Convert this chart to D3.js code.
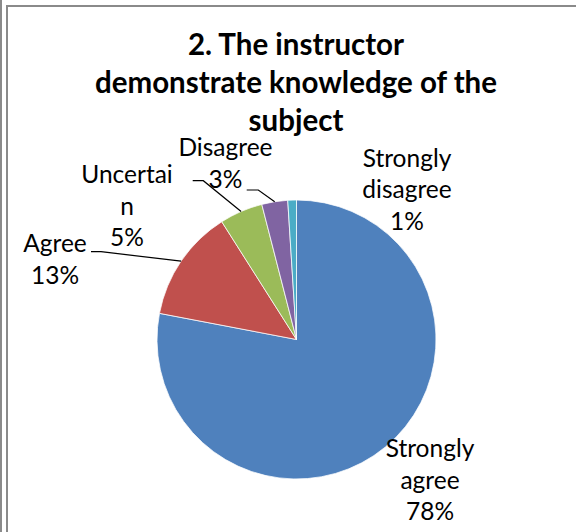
<!DOCTYPE html>
<html>
<head>
<meta charset="utf-8">
<script src="https://cdn.jsdelivr.net/npm/d3@7"></script>
<style>
  html, body { margin: 0; padding: 0; background: #fff; }
  svg { display: block; }
</style>
</head>
<body>
<svg id="chart" width="576" height="532"></svg>
<script>
// ---- data ----
const categories = ["Strongly agree", "Agree", "Uncertain", "Disagree", "Strongly disagree"];
const values = [78, 13, 5, 3, 1];
const labelLines = [
  ["Strongly", "agree", "78%"],
  ["Agree", "13%"],
  ["Uncertai", "n", "5%"],
  ["Disagree", "3%"],
  ["Strongly", "disagree", "1%"]
];
const titleLines = ["2. The instructor", "demonstrate knowledge of the", "subject"];

// ---- styles / layout ----
const colors = ["#4F81BD", "#C0504D", "#9BBB59", "#8064A2", "#4BACC6"];
const W = 576, H = 532;
const cx = 296.5, cy = 339.5, R = 139.5;
const labelFont = "Lato, 'Open Sans', sans-serif";
const labelSize = 24.5, lineH = 31.8;
// label block layout: x centre, baseline of first line; leader: elbow start points (null = none)
const labelLayout = [
  { x: 430, y: 456.7, leader: null },
  { x: 55,  y: 251.7, leader: [91, 251.7, 101, 251.7] },
  { x: 127, y: 182.7, leader: [192.7, 180.7, 203.3, 180.7] },
  { x: 225.5, y: 156.3, leader: [246.7, 190, 258.3, 190] },
  { x: 407, y: 166.6, leader: null }
];

const svg = d3.select("#chart");
svg.append("rect").attr("width", W).attr("height", H).attr("fill", "#fff");

// frame
svg.append("rect").attr("x", 0).attr("y", 0).attr("width", 2).attr("height", H).attr("fill", "#8a8a8a");
svg.append("rect").attr("x", 6).attr("y", 5).attr("width", 2).attr("height", H - 5).attr("fill", "#8a8a8a");
svg.append("rect").attr("x", 6).attr("y", 5).attr("width", W - 6).attr("height", 2).attr("fill", "#8a8a8a");

// title
const title = svg.append("text")
  .attr("text-anchor", "middle")
  .attr("font-family", labelFont)
  .attr("font-weight", "bold")
  .attr("font-size", 29.5)
  .attr("fill", "#000");
titleLines.forEach((t, i) => {
  title.append("tspan").attr("x", 296).attr("y", 55 + i * 38).text(t);
});

// pie
const data = categories.map((c, i) => ({ cat: c, value: values[i], i }));
const pie = d3.pie().value(d => d.value).sort(null);
const arcs = pie(data);
const arc = d3.arc().innerRadius(0).outerRadius(R);

const g = svg.append("g").attr("transform", `translate(${cx},${cy})`);
g.selectAll("path.slice").data(arcs).join("path")
  .attr("class", "slice")
  .attr("d", arc)
  .attr("fill", d => colors[d.data.i])
  .attr("stroke", "#fff")
  .attr("stroke-width", 0.75);

// leader lines
arcs.forEach((a, i) => {
  const L = labelLayout[i];
  if (!L.leader) return;
  const mid = (a.startAngle + a.endAngle) / 2;
  const ex = cx + Math.sin(mid) * R;
  const ey = cy - Math.cos(mid) * R;
  const [x1, y1, x2, y2] = L.leader;
  svg.append("polyline")
    .attr("points", `${x1},${y1} ${x2},${y2} ${ex},${ey}`)
    .attr("fill", "none")
    .attr("stroke", "#000")
    .attr("stroke-width", 1.2);
});

// labels
arcs.forEach((a, i) => {
  const L = labelLayout[i];
  const t = svg.append("text")
    .attr("text-anchor", "middle")
    .attr("font-family", labelFont)
    .attr("font-size", labelSize)
    .attr("fill", "#000");
  labelLines[i].forEach((ln, k) => {
    t.append("tspan").attr("x", L.x).attr("y", L.y + k * lineH).text(ln);
  });
});
</script>
</body>
</html>
